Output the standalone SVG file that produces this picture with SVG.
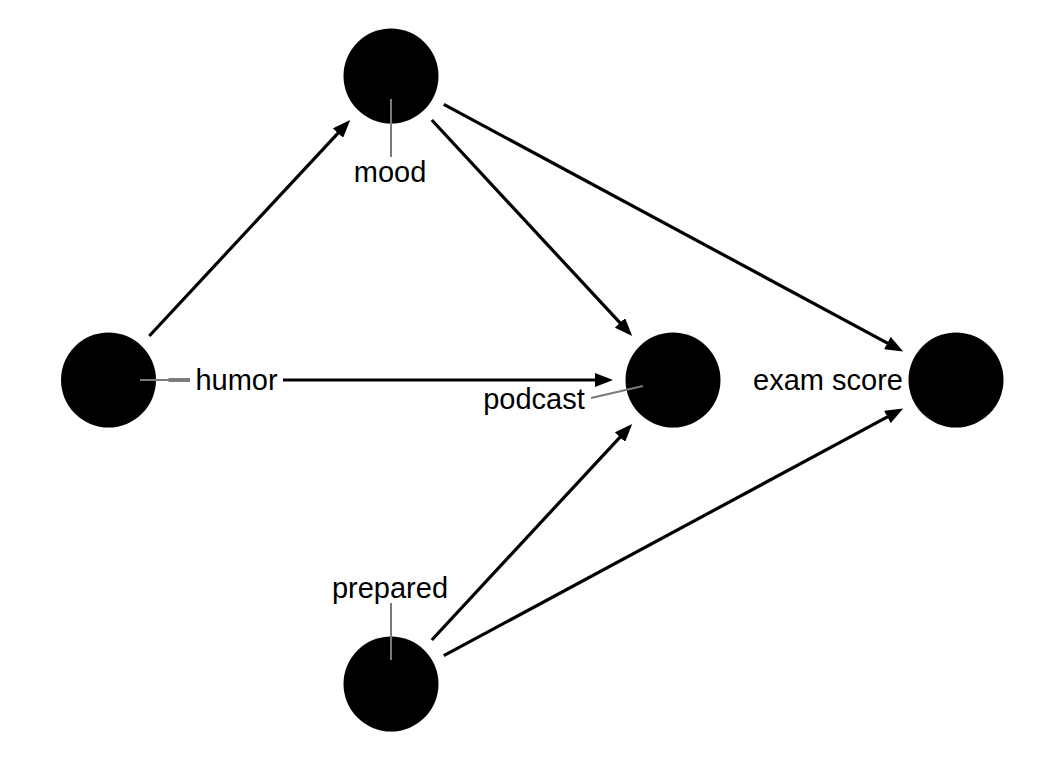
<svg xmlns="http://www.w3.org/2000/svg" width="1056" height="768" viewBox="0 0 1056 768">
  <style>
    .node { fill: #000000; }
    .edge { stroke: #000000; stroke-width: 3.2; fill: none; marker-end: url(#arrow); }
    .lead { stroke: #7a7a7a; stroke-width: 2; fill: none; }
    .label { font-family: "Liberation Sans", Arial, Helvetica, sans-serif; font-size: 29px; fill: #000000; text-anchor: middle; }
  </style>
  <defs>
    <marker id="arrow" markerUnits="userSpaceOnUse" markerWidth="18" markerHeight="14" viewBox="0 0 18 14" refX="8" refY="7" orient="auto">
      <path d="M0,0 L18,7 L0,14 z" fill="#000000"/>
    </marker>
  </defs>
  <rect x="0" y="0" width="1056" height="768" fill="#ffffff"/>

  <g id="connectors">
    <line class="edge" x1="149.3" y1="336.0" x2="343.4" y2="127.3"/>
    <line class="edge" x1="168.5" y1="380" x2="603" y2="380"/>
    <line class="edge" x1="431.8" y1="120.0" x2="625.4" y2="328.7"/>
    <line class="edge" x1="443.8" y1="104.4" x2="894.4" y2="346.8"/>
    <line class="edge" x1="431.8" y1="640.0" x2="625.4" y2="431.3"/>
    <line class="edge" x1="443.8" y1="655.6" x2="894.4" y2="413.2"/>
  </g>

  <g id="node-mood">
    <circle class="node" cx="391" cy="76" r="47.5"/>
    <line class="lead" x1="391" y1="99" x2="391" y2="157"/>
    <text class="label" x="390" y="182">mood</text>
  </g>

  <g id="node-humor">
    <circle class="node" cx="108.5" cy="380" r="47.5"/>
    <rect x="190" y="366" width="93" height="30" fill="#ffffff"/>
    <line class="lead" x1="140" y1="380" x2="190" y2="380" stroke-width="3"/>
    <text class="label" x="236.5" y="389.5">humor</text>
  </g>

  <g id="node-podcast">
    <circle class="node" cx="673" cy="380" r="47.5"/>
    <line class="lead" x1="643" y1="386" x2="591" y2="398"/>
    <text class="label" x="534" y="408.5">podcast</text>
  </g>

  <g id="node-exam-score">
    <circle class="node" cx="956" cy="380" r="47.5"/>
    <text class="label" x="828" y="389.5">exam score</text>
  </g>

  <g id="node-prepared">
    <circle class="node" cx="391" cy="684" r="47.5"/>
    <line class="lead" x1="391" y1="603" x2="391" y2="660"/>
    <text class="label" x="390" y="597.5">prepared</text>
  </g>
</svg>
